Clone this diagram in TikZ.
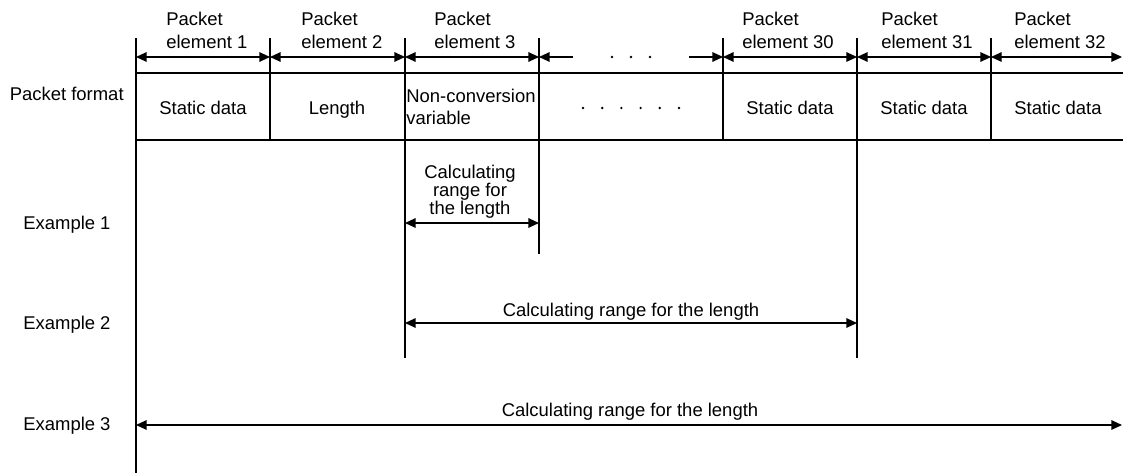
\documentclass[tikz,border=0pt]{standalone}
\usepackage{fontspec}
\setmainfont{Liberation Sans}
\usetikzlibrary{arrows.meta}

\tikzset{
  thinline/.style={line width=0.65pt},
  dimboth/.style={thinline, {Triangle[length=6pt,width=5.4pt]}-{Triangle[length=6pt,width=5.4pt]}},
  dimright/.style={thinline, -{Triangle[length=6pt,width=5.4pt]}},
  txt/.style={inner sep=0pt, font=\fontsize{10.5}{13}\selectfont}
}

\begin{document}
\begin{tikzpicture}[x=0.02cm, y=-0.02cm]

% laid out in pixel units, y running downwards
\useasboundingbox (0,0) rectangle (1123,473);

% Column boundaries
\def\colA{136}
\def\colB{270}
\def\colC{405}
\def\colD{539}
\def\colE{723}
\def\colF{857}
\def\colG{991}
\def\colH{1122}

% Row geometry
\def\rowDim{57}   % element arrows
\def\rowTop{73}   % table top
\def\rowBot{140}  % table bottom

% Table rules
\draw[thinline] (\colA,\rowTop) -- (1123,\rowTop);
\draw[thinline] (\colA,\rowBot) -- (1123,\rowBot);

% Vertical lines (each runs down as far as it is needed)
\foreach \x/\yend in {\colA/473, \colB/\rowBot, \colC/358, \colD/254, \colE/\rowBot, \colF/358, \colG/\rowBot} {
    \draw[thinline] (\x,38) -- (\x,\yend);
}

% Element arrows
\foreach \n/\x in {A/\colA, B/\colB, C/\colC, D/\colD, E/\colE, F/\colF, G/\colG, H/\colH} {
    \coordinate (d\n) at (\x,\rowDim);
}
\coordinate (gapL) at (573,\rowDim);
\coordinate (gapR) at (689,\rowDim);

\draw[dimboth] (dA) -- (dB);
\draw[dimboth] (dB) -- (dC);
\draw[dimboth] (dC) -- (dD);
\draw[dimboth] (dE) -- (dF);
\draw[dimboth] (dF) -- (dG);
\draw[dimboth] (dG) -- (dH);
\draw[dimright] (gapL) -- (dD);
\draw[dimright] (gapR) -- (dE);

% Dots for the skipped elements
\foreach \x in {612,631,650} {
    \fill (\x,\rowDim) circle (0.75pt);
}
\foreach \x in {583,602.2,...,680} {
    \fill (\x,108) circle (0.75pt);
}

% Element labels
\node[txt, align=left, anchor=north west] (pe1)  at (166,12)  {Packet\\element 1};
\node[txt, align=left, anchor=north west] (pe2)  at (301,12)  {Packet\\element 2};
\node[txt, align=left, anchor=north west] (pe3)  at (434,12)  {Packet\\element 3};
\node[txt, align=left, anchor=north west] (pe30) at (742,12)  {Packet\\element 30};
\node[txt, align=left, anchor=north west] (pe31) at (881,12)  {Packet\\element 31};
\node[txt, align=left, anchor=north west] (pe32) at (1014,12) {Packet\\element 32};

% Cell contents
\node[txt, anchor=base] (c1)  at (203,115)  {Static data};
\node[txt, anchor=base] (c2)  at (337,115)  {Length};
\node[txt, align=left, anchor=north west, font=\fontsize{10.5}{12.5}\selectfont] (c3) at (406,89) {Non-conversion\\variable};
\node[txt, anchor=base] (c30) at (790,115)  {Static data};
\node[txt, anchor=base] (c31) at (924,115)  {Static data};
\node[txt, anchor=base] (c32) at (1058,115) {Static data};

% Row labels
\node[txt, anchor=base east] (fmt) at (124,101) {Packet format};
\node[txt, anchor=base west] (ex1) at (23,230)  {Example 1};
\node[txt, anchor=base west] (ex2) at (23,329)  {Example 2};
\node[txt, anchor=base west] (ex3) at (23,430)  {Example 3};

% Example 1
\coordinate (r1L) at (\colC,223);
\coordinate (r1R) at (\colD,223);
\draw[dimboth] (r1L) -- (r1R);
\node[txt, align=center, anchor=north, font=\fontsize{10.5}{10.3}\selectfont] (rng1) at (470,165) {Calculating\\range for\\the length};

% Example 2
\coordinate (r2L) at (\colC,323);
\coordinate (r2R) at (\colF,323);
\draw[dimboth] (r2L) -- (r2R);
\node[txt, anchor=base] (rng2) at (631,316) {Calculating range for the length};

% Example 3
\coordinate (r3L) at (\colA,425);
\coordinate (r3R) at (\colH,425);
\draw[dimboth] (r3L) -- (r3R);
\node[txt, anchor=base] (rng3) at (630,416) {Calculating range for the length};

\end{tikzpicture}
\end{document}
